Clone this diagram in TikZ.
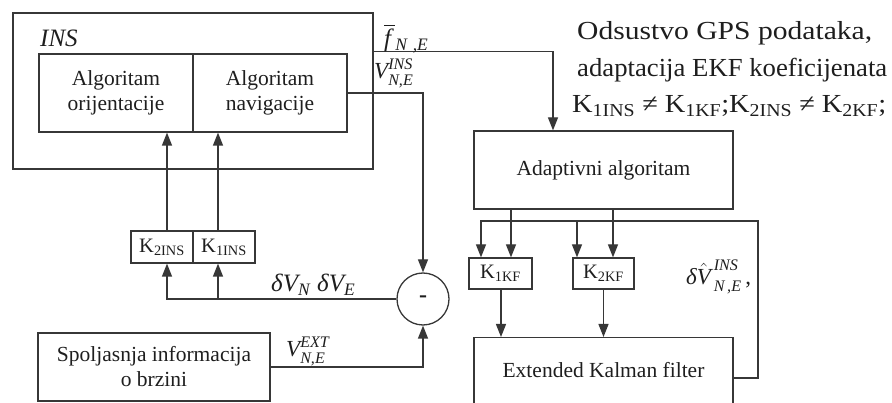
\documentclass[tikz,border=0pt]{standalone}
\usepackage{fontspec}
\setmainfont{Liberation Serif}
\usepackage{amsmath}
\usepackage{graphicx}
\usetikzlibrary{arrows.meta,calc}
\definecolor{linec}{RGB}{55,55,55}
\definecolor{txtc}{RGB}{30,30,30}
\newcommand{\Kx}[1]{K\textsubscript{#1}}
\begin{document}
\begin{tikzpicture}[x=1pt,y=-1pt,
  box/.style={draw=linec, line width=1.3pt, inner sep=0pt, align=center, text=txtc, font=\fontsize{21.5}{25}\selectfont},
  conn/.style={draw=linec, line width=1.3pt},
  arr/.style={conn, -{Triangle[length=13pt,width=10pt]}},
  lbl/.style={inner sep=0pt, text=txtc, font=\fontsize{23}{27}\selectfont},
  note/.style={inner sep=0pt, text=txtc, font=\fontsize{26}{30}\selectfont}]
\useasboundingbox (0,0) rectangle (892,403);
% INS block
\node[box, minimum width=360pt, minimum height=156pt] (ins) at (193,91) {};
\node[lbl, anchor=base west, font=\fontsize{25}{30}\selectfont\itshape] (inslbl) at (40,47) {INS};
\node[box, minimum width=154pt, minimum height=78pt] (orient) at (116,93) {Algoritam\\orijentacije};
\node[box, minimum width=154pt, minimum height=78pt] (nav) at (270,93) {Algoritam\\navigacije};
% gains INS
\node[box, minimum width=62pt, minimum height=32pt, font=\fontsize{20.5}{24}\selectfont] (k2ins) at (162,247) {\Kx{2INS}};
\node[box, minimum width=62pt, minimum height=32pt, font=\fontsize{20.5}{24}\selectfont] (k1ins) at (224,247) {\Kx{1INS}};
% sum
\node[draw=linec, circle, line width=1.3pt, minimum size=52pt, inner sep=0pt, text=txtc, font=\fontsize{24}{26}\selectfont\bfseries] (circ) at (423,299) {-};
% external
\node[box, minimum width=232pt, minimum height=68pt] (spol) at (154,367) {Spoljasnja informacija\\o brzini};
% right part
\node[box, minimum width=259pt, minimum height=78pt] (adapt) at (603.5,170) {Adaptivni algoritam};
\node[box, minimum width=63pt, minimum height=31pt, font=\fontsize{20.5}{24}\selectfont] (k1kf) at (500.5,273.5) {\Kx{1KF}};
\node[box, minimum width=61pt, minimum height=31pt, font=\fontsize{20.5}{24}\selectfont] (k2kf) at (603.5,273.5) {\Kx{2KF}};
\node[box, minimum width=259pt, minimum height=90pt, anchor=north] (ekf) at (603.5,337) {};
\node[lbl, font=\fontsize{21.5}{25}\selectfont] (ekflbl) at (603.5,370) {Extended Kalman filter};
\coordinate (fbR) at (758,221);
% connectors
\draw[arr] ([yshift=-39pt]ins.north east) -| ([xshift=-50.5pt]adapt.north);
\draw[arr] (nav.east) -| (circ.north);
\draw[arr] ([xshift=5pt]k2ins.north) -- ([xshift=5pt]k2ins.north |- orient.south);
\draw[arr] ([xshift=-6pt]k1ins.north) -- ([xshift=-6pt]k1ins.north |- nav.south);
\draw[arr] (circ.west) -| ([xshift=5pt]k2ins.south);
\draw[arr] ([xshift=-6pt]k1ins.south |- circ.west) -- ([xshift=-6pt]k1ins.south);
\draw[arr] (spol.east) -| (circ.south);
\draw[arr] ([xshift=-92.5pt]adapt.south) -- ([xshift=-92.5pt]adapt.south |- k1kf.north);
\draw[arr] ([xshift=9.5pt]adapt.south) -- ([xshift=9.5pt]adapt.south |- k2kf.north);
\draw[arr] ([yshift=-41pt]ekf.north east) -| (fbR) -| ([xshift=-19.5pt]k1kf.north);
\draw[arr] ([xshift=-26.5pt]k2kf.north |- fbR) -- ([xshift=-26.5pt]k2kf.north);
\draw[arr] ([xshift=0.5pt]k1kf.south) -- ([xshift=0.5pt]k1kf.south |- ekf.north);
\draw[arr] (k2kf.south) -- (k2kf.south |- ekf.north);
% labels
\node[lbl, anchor=base west, font=\fontsize{25}{28}\selectfont] (flbl) at (384,47) {$\overline{\textit{f}\,}\vphantom{f}_{\textit{N\,\,,E}}$};
\node[lbl, anchor=base west] (vinslbl) at (374,79) {$\textit{V}^{\textit{INS}}_{\textit{N,E}}$};
\node[lbl, anchor=base west, font=\fontsize{25}{28}\selectfont] (dvlbl) at (271,292) {$\textit{δV}_{\textit{N}}\;\textit{δV}_{\textit{E}}$};
\node[lbl, anchor=base west] (vextlbl) at (286,357) {$\textit{V}^{\textit{EXT}}_{\textit{N,E}}$};
\node[lbl, anchor=base west] (dvhlbl) at (686,285) {$\textit{δ}\hat{\textit{V}}^{\,\textit{INS}}_{\,\textit{N\,,E}}$\,,};
% notes
\node[note, anchor=base west] (n1) at (577,40) {\resizebox{295pt}{\height}{Odsustvo GPS podataka,}};
\node[note, anchor=base west] (n2) at (577,77) {\resizebox{310pt}{\height}{adaptacija EKF koeficijenata}};
\node[note, anchor=base west] (n3) at (572,113) {\resizebox{314pt}{\height}{\Kx{1INS} ≠ \Kx{1KF};\Kx{2INS} ≠ \Kx{2KF};}};
\end{tikzpicture}
\end{document}
